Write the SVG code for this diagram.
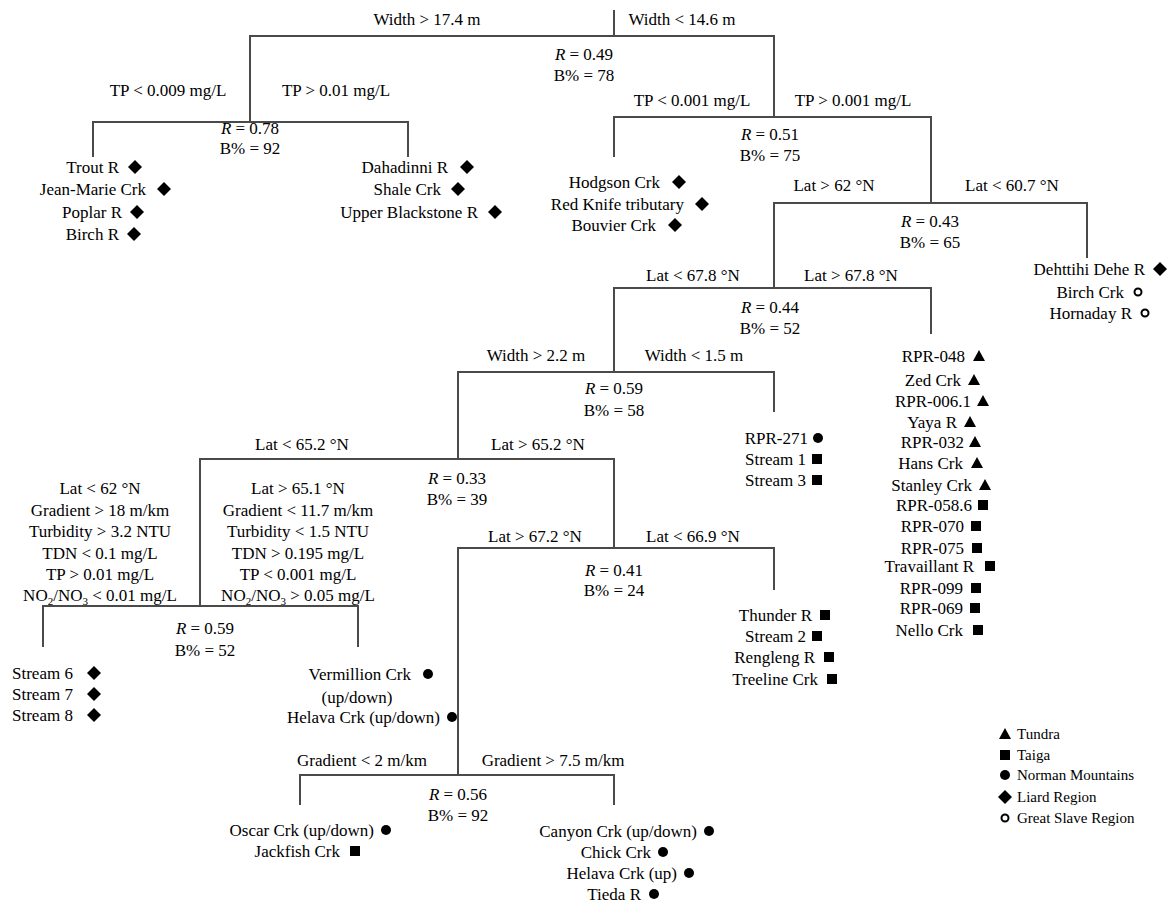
<svg xmlns="http://www.w3.org/2000/svg" width="1173" height="905" viewBox="0 0 1173 905" font-family="'Liberation Serif', 'DejaVu Serif', 'Times New Roman', serif">
<style>
text{font-family:'Liberation Serif','DejaVu Serif','Times New Roman',serif;font-size:17px;fill:#000}
.m{text-anchor:middle}
.e{text-anchor:end}
.s{font-size:15px}
.sub{font-size:11px}
.c{fill:none;stroke:#4a4a4a;stroke-width:2}
</style>
<defs>
<polygon id="dia" points="0,-7 7,0 0,7 -7,0" fill="#000"/>
<rect id="sq" x="-5" y="-5" width="10" height="10" fill="#000"/>
<polygon id="tri" points="0,-6 6,5 -6,5" fill="#000"/>
<circle id="dot" r="5" fill="#000"/>
<circle id="ring" r="3.5" fill="#fff" stroke="#000" stroke-width="2"/>
</defs>
<rect width="1173" height="905" fill="#fff"/>
<g id="connectors">
<path class="c" d="M614,10 V36"/>
<path class="c" d="M250,122 V36 H774 V117"/>
<path class="c" d="M93,157 V122 H408 V157"/>
<path class="c" d="M614,157 V117 H931 V203"/>
<path class="c" d="M774,288 V203 H1087 V258"/>
<path class="c" d="M614,372 V288 H931 V334"/>
<path class="c" d="M458,459 V372 H774 V412"/>
<path class="c" d="M200,606 V459 H614 V548"/>
<path class="c" d="M43,647 V606 H358 V647"/>
<path class="c" d="M458,775 V548 H774 V590"/>
<path class="c" d="M300,805 V775 H614 V805"/>
</g>
<g id="node-root">
<text class="m" x="427" y="25">Width &gt; 17.4 m</text>
<text class="m" x="682" y="25">Width &lt; 14.6 m</text>
<text class="m" x="584" y="60"><tspan font-style="italic">R</tspan> = 0.49</text>
<text class="m" x="584" y="81">B% = 78</text>
</g>
<g id="node-width-wide">
<text class="m" x="168" y="96">TP &lt; 0.009 mg/L</text>
<text class="m" x="336" y="96">TP &gt; 0.01 mg/L</text>
<text class="m" x="250" y="134"><tspan font-style="italic">R</tspan> = 0.78</text>
<text class="m" x="250" y="154">B% = 92</text>
</g>
<g id="leaf-trout">
<text class="e" x="119" y="173">Trout R</text><use href="#dia" x="135" y="167"/>
<text class="e" x="146" y="195">Jean-Marie Crk</text><use href="#dia" x="164" y="189"/>
<text class="e" x="122" y="218">Poplar R</text><use href="#dia" x="137" y="212"/>
<text class="e" x="119" y="240">Birch R</text><use href="#dia" x="134" y="234"/>
</g>
<g id="leaf-dahadinni">
<text class="e" x="448" y="173">Dahadinni R</text><use href="#dia" x="467" y="167"/>
<text class="e" x="441" y="195">Shale Crk</text><use href="#dia" x="458" y="189"/>
<text class="e" x="478" y="218">Upper Blackstone R</text><use href="#dia" x="495" y="212"/>
</g>
<g id="node-width-narrow">
<text class="m" x="692" y="106">TP &lt; 0.001 mg/L</text>
<text class="m" x="853" y="106">TP &gt; 0.001 mg/L</text>
<text class="m" x="770" y="140"><tspan font-style="italic">R</tspan> = 0.51</text>
<text class="m" x="770" y="161">B% = 75</text>
</g>
<g id="leaf-hodgson">
<text class="e" x="660" y="188">Hodgson Crk</text><use href="#dia" x="679" y="182"/>
<text class="e" x="684" y="210">Red Knife tributary</text><use href="#dia" x="702" y="204"/>
<text class="e" x="656" y="231">Bouvier Crk</text><use href="#dia" x="675" y="225"/>
</g>
<g id="node-tp-high">
<text class="m" x="834" y="191">Lat &gt; 62 °N</text>
<text class="m" x="1012" y="191">Lat &lt; 60.7 °N</text>
<text class="m" x="930" y="227"><tspan font-style="italic">R</tspan> = 0.43</text>
<text class="m" x="930" y="248">B% = 65</text>
</g>
<g id="leaf-dehttihi">
<text class="e" x="1145" y="275">Dehttihi Dehe R</text><use href="#dia" x="1160" y="269"/>
<text class="e" x="1124" y="298">Birch Crk</text><use href="#ring" x="1138" y="292"/>
<text class="e" x="1132" y="319">Hornaday R</text><use href="#ring" x="1145" y="313"/>
</g>
<g id="node-lat62">
<text class="m" x="693" y="281">Lat &lt; 67.8 °N</text>
<text class="m" x="851" y="281">Lat &gt; 67.8 °N</text>
<text class="m" x="770" y="313"><tspan font-style="italic">R</tspan> = 0.44</text>
<text class="m" x="770" y="334">B% = 52</text>
</g>
<g id="leaf-rpr048">
<text class="e" x="965" y="362">RPR-048</text><use href="#tri" x="979" y="356"/>
<text class="e" x="961" y="386">Zed Crk</text><use href="#tri" x="974" y="380"/>
<text class="e" x="971" y="407">RPR-006.1</text><use href="#tri" x="983" y="401"/>
<text class="e" x="957" y="428">Yaya R</text><use href="#tri" x="970" y="422"/>
<text class="e" x="964" y="448">RPR-032</text><use href="#tri" x="975" y="442"/>
<text class="e" x="963" y="469">Hans Crk</text><use href="#tri" x="977" y="463"/>
<text class="e" x="972" y="491">Stanley Crk</text><use href="#tri" x="985" y="485"/>
<text class="e" x="972" y="511">RPR-058.6</text><use href="#sq" x="983" y="505"/>
<text class="e" x="964" y="532">RPR-070</text><use href="#sq" x="976" y="526"/>
<text class="e" x="964" y="554">RPR-075</text><use href="#sq" x="977" y="548"/>
<text class="e" x="974" y="572">Travaillant R</text><use href="#sq" x="990" y="566"/>
<text class="e" x="963" y="594">RPR-099</text><use href="#sq" x="976" y="588"/>
<text class="e" x="963" y="614">RPR-069</text><use href="#sq" x="975" y="608"/>
<text class="e" x="963" y="636">Nello Crk</text><use href="#sq" x="978" y="630"/>
</g>
<g id="node-lat678">
<text class="m" x="536" y="361">Width &gt; 2.2 m</text>
<text class="m" x="694" y="361">Width &lt; 1.5 m</text>
<text class="m" x="614" y="394"><tspan font-style="italic">R</tspan> = 0.59</text>
<text class="m" x="614" y="416">B% = 58</text>
</g>
<g id="leaf-rpr271">
<text class="e" x="808" y="444">RPR-271</text><use href="#dot" x="818" y="438"/>
<text class="e" x="806" y="465">Stream 1</text><use href="#sq" x="817" y="459"/>
<text class="e" x="806" y="486">Stream 3</text><use href="#sq" x="817" y="480"/>
</g>
<g id="node-width22">
<text class="m" x="302" y="450">Lat &lt; 65.2 °N</text>
<text class="m" x="538" y="450">Lat &gt; 65.2 °N</text>
<text class="m" x="457" y="484"><tspan font-style="italic">R</tspan> = 0.33</text>
<text class="m" x="457" y="505">B% = 39</text>
</g>
<g id="node-lat652-low">
<text class="m" x="100" y="494">Lat &lt; 62 °N</text>
<text class="m" x="100" y="516">Gradient &gt; 18 m/km</text>
<text class="m" x="100" y="537">Turbidity &gt; 3.2 NTU</text>
<text class="m" x="100" y="559">TDN &lt; 0.1 mg/L</text>
<text class="m" x="100" y="580">TP &gt; 0.01 mg/L</text>
<text class="m" x="100" y="601">NO<tspan class="sub" dy="4">2</tspan><tspan dy="-4">/NO</tspan><tspan class="sub" dy="4">3</tspan><tspan dy="-4"> &lt; 0.01 mg/L</tspan></text>
<text class="m" x="298" y="494">Lat &gt; 65.1 °N</text>
<text class="m" x="298" y="516">Gradient &lt; 11.7 m/km</text>
<text class="m" x="298" y="537">Turbidity &lt; 1.5 NTU</text>
<text class="m" x="298" y="559">TDN &gt; 0.195 mg/L</text>
<text class="m" x="298" y="580">TP &lt; 0.001 mg/L</text>
<text class="m" x="298" y="601">NO<tspan class="sub" dy="4">2</tspan><tspan dy="-4">/NO</tspan><tspan class="sub" dy="4">3</tspan><tspan dy="-4"> &gt; 0.05 mg/L</tspan></text>
<text class="m" x="205" y="634"><tspan font-style="italic">R</tspan> = 0.59</text>
<text class="m" x="205" y="656">B% = 52</text>
</g>
<g id="leaf-stream6">
<text x="12" y="679">Stream 6</text><use href="#dia" x="94" y="673"/>
<text x="12" y="700">Stream 7</text><use href="#dia" x="94" y="694"/>
<text x="12" y="721">Stream 8</text><use href="#dia" x="94" y="715"/>
</g>
<g id="leaf-vermillion">
<text class="e" x="411" y="680">Vermillion Crk</text><use href="#dot" x="428" y="674"/>
<text class="m" x="357" y="703">(up/down)</text>
<text class="e" x="440" y="723">Helava Crk (up/down)</text><use href="#dot" x="452" y="717"/>
</g>
<g id="node-lat652-high">
<text class="m" x="535" y="542">Lat &gt; 67.2 °N</text>
<text class="m" x="693" y="542">Lat &lt; 66.9 °N</text>
<text class="m" x="614" y="576"><tspan font-style="italic">R</tspan> = 0.41</text>
<text class="m" x="614" y="596">B% = 24</text>
</g>
<g id="leaf-thunder">
<text class="e" x="812" y="621">Thunder R</text><use href="#sq" x="825" y="615"/>
<text class="e" x="806" y="642">Stream 2</text><use href="#sq" x="817" y="636"/>
<text class="e" x="815" y="663">Rengleng R</text><use href="#sq" x="829" y="657"/>
<text class="e" x="818" y="685">Treeline Crk</text><use href="#sq" x="832" y="679"/>
</g>
<g id="node-lat672">
<text class="m" x="362" y="766">Gradient &lt; 2 m/km</text>
<text class="m" x="553" y="766">Gradient &gt; 7.5 m/km</text>
<text class="m" x="458" y="800"><tspan font-style="italic">R</tspan> = 0.56</text>
<text class="m" x="458" y="821">B% = 92</text>
</g>
<g id="leaf-oscar">
<text class="e" x="374" y="836">Oscar Crk (up/down)</text><use href="#dot" x="386" y="830"/>
<text class="e" x="340" y="857">Jackfish Crk</text><use href="#sq" x="355" y="851"/>
</g>
<g id="leaf-canyon">
<text class="e" x="697" y="837">Canyon Crk (up/down)</text><use href="#dot" x="709" y="831"/>
<text class="e" x="651" y="858">Chick Crk</text><use href="#dot" x="663" y="852"/>
<text class="e" x="677" y="879">Helava Crk (up)</text><use href="#dot" x="689" y="873"/>
<text class="e" x="641" y="900">Tieda R</text><use href="#dot" x="654" y="894"/>
</g>
<g id="legend">
<use href="#tri" x="1005" y="734"/><text class="s" x="1017" y="739">Tundra</text>
<use href="#sq" x="1005" y="755"/><text class="s" x="1017" y="760">Taiga</text>
<use href="#dot" x="1005" y="775"/><text class="s" x="1017" y="780">Norman Mountains</text>
<use href="#dia" x="1005" y="797"/><text class="s" x="1017" y="802">Liard Region</text>
<use href="#ring" x="1005" y="818"/><text class="s" x="1017" y="823">Great Slave Region</text>
</g>
</svg>
